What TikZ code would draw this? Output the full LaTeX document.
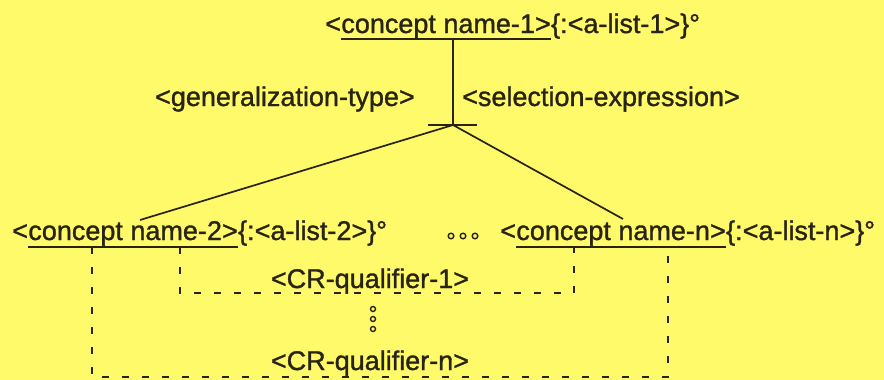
\documentclass[tikz,border=0pt]{standalone}
\usepackage{fontspec}
\setmainfont[FakeBold=1.2]{Liberation Sans}
\definecolor{paper}{RGB}{255,250,105}
\definecolor{ink}{RGB}{40,35,20}
\begin{document}
\begin{tikzpicture}[x=1pt,y=-1pt,
  txt/.style={inner sep=0pt, text=ink, font=\fontsize{27}{32}\selectfont},
  solidline/.style={draw=ink, line width=1.7pt},
  dashline/.style={draw=ink, line width=1.6pt, dash pattern=on 7pt off 13pt},
  dot/.style={draw=ink, line width=1.4pt}]
  % paper
  \fill[paper] (0,0) rectangle (884,380);
  \useasboundingbox (0,0) rectangle (884,380);

  % root concept
  \node[txt, anchor=base west] (lt1) at (325,33) {<};
  \node[txt, anchor=base west] (c1) at (lt1.base east) {concept name-1>};
  \node[txt, anchor=base west] (al1) at (c1.base east) {\{:<a-list-1>\}°};
  \draw[solidline] ([yshift=-6pt]c1.base west) -- ([yshift=-6pt]c1.base east);

  % branch labels
  \node[txt, anchor=base east] (gen) at (415,106) {<generalization-type>};
  \node[txt, anchor=base west] (sel) at (462,106) {<selection-expression>};

  % hub of the tree
  \coordinate (stem) at (453,39);
  \coordinate (hub) at (453,125);
  \coordinate (barL) at (428,125);
  \coordinate (barR) at (477,125);
  \draw[solidline] (stem) -- (hub);
  \draw[solidline] (barL) -- (barR);

  % child concept 2
  \node[txt, anchor=base west] (lt2) at (12,240) {<};
  \node[txt, anchor=base west] (c2) at (lt2.base east) {concept name-2>};
  \node[txt, anchor=base west] (al2) at (c2.base east) {\{:<a-list-2>\}°};
  \draw[solidline] ([yshift=-7pt]c2.base west) -- ([yshift=-7pt]c2.base east);

  % child concept n
  \node[txt, anchor=base west] (ltn) at (500,240) {<};
  \node[txt, anchor=base west] (cn) at (ltn.base east) {concept name-n>};
  \node[txt, anchor=base west] (aln) at (cn.base east) {\{:<a-list-n>\}°};
  \draw[solidline] ([yshift=-7pt]cn.base west) -- ([yshift=-7pt]cn.base east);

  % edges to the children
  \coordinate (e2) at (140,220);
  \coordinate (en) at (623,219);
  \draw[solidline] (hub) -- (e2);
  \draw[solidline] (hub) -- (en);

  % ellipsis between the children
  \foreach \x in {451,463,475} \draw[dot] (\x,236) circle (2.8);

  % qualifier links
  \node[txt, anchor=base] (q1) at (370,288) {<CR-qualifier-1>};
  \node[txt, anchor=base] (qn) at (370,370) {<CR-qualifier-n>};
  \foreach \y in {309,319,329} \draw[dot] (373,\y) circle (2.5);

  \draw[dashline] (180,247) -- (180,293) -- (574,293) -- (574,247);
  \draw[dashline] (92,247) -- (92,377) -- (668,377) -- (668,247);
\end{tikzpicture}
\end{document}
